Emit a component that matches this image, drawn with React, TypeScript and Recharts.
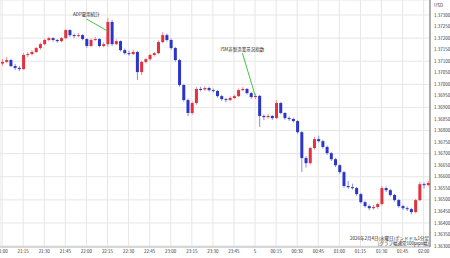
import { Bar, CartesianGrid, ComposedChart, ReferenceDot, ReferenceLine, XAxis, YAxis } from "recharts";

const opens = [
  1.3709, 1.37097, 1.37105, 1.37079, 1.37071, 1.37066, 1.37127, 1.37131, 1.3714, 1.37157,
  1.37174, 1.37192, 1.372, 1.37192, 1.37187, 1.372, 1.37235, 1.37213, 1.37209, 1.37213,
  1.37196, 1.37166, 1.37192, 1.37196, 1.37166, 1.37174, 1.3727, 1.37174, 1.37187, 1.37148,
  1.37135, 1.37131, 1.3714, 1.37053, 1.37097, 1.37109, 1.37127, 1.37135, 1.37183, 1.37213,
  1.37192, 1.37157, 1.37105, 1.36997, 1.36932, 1.36876, 1.36919, 1.3698, 1.36978, 1.36984,
  1.36975, 1.36971, 1.36949, 1.36936, 1.36932, 1.36941, 1.36949, 1.36975, 1.3698, 1.36962,
  1.36945, 1.3695, 1.36863, 1.36858, 1.36863, 1.36854, 1.36919, 1.36876, 1.36854, 1.3685,
  1.36841, 1.36793, 1.36681, 1.36659, 1.36724, 1.36763, 1.36754, 1.36729, 1.36702, 1.36676,
  1.3665, 1.3662, 1.3656, 1.36555, 1.36551, 1.36525, 1.3649, 1.36473, 1.36464, 1.36469,
  1.36482, 1.36551, 1.36542, 1.36521, 1.36499, 1.36473, 1.36464, 1.3646, 1.36447, 1.36499,
  1.36568, 1.36564,
];
const highs = [
  1.3711, 1.37118, 1.3711, 1.37088, 1.3708, 1.37135, 1.3714, 1.37148, 1.37162, 1.3718,
  1.37198, 1.37206, 1.37204, 1.37196, 1.37205, 1.3724, 1.37238, 1.3722, 1.37222, 1.37217,
  1.372, 1.372, 1.37205, 1.372, 1.37182, 1.37287, 1.37278, 1.37195, 1.3719, 1.37155,
  1.37146, 1.3715, 1.37144, 1.37102, 1.37115, 1.37132, 1.3714, 1.3719, 1.37226, 1.3722,
  1.37198, 1.37162, 1.3711, 1.37002, 1.36938, 1.36925, 1.36988, 1.3699, 1.36992, 1.3699,
  1.36982, 1.36976, 1.36955, 1.36942, 1.36948, 1.36955, 1.36982, 1.36988, 1.36984, 1.36966,
  1.36958, 1.36954, 1.3687, 1.36872, 1.36868, 1.36932, 1.36924, 1.3688, 1.36862, 1.36856,
  1.36846, 1.36798, 1.3669, 1.3673, 1.36772, 1.36778, 1.3676, 1.36735, 1.36708, 1.36682,
  1.36655, 1.36625, 1.36582, 1.3657, 1.36556, 1.3653, 1.36496, 1.3648, 1.36478, 1.36488,
  1.3656, 1.36558, 1.36548, 1.36526, 1.36504, 1.36478, 1.36472, 1.36466, 1.36505, 1.36578,
  1.36575, 1.36582,
];
const lows = [
  1.3708, 1.37092, 1.37075, 1.37062, 1.37058, 1.37062, 1.37118, 1.37125, 1.37135, 1.3715,
  1.3717, 1.37186, 1.37185, 1.3718, 1.37182, 1.37196, 1.37205, 1.372, 1.37204, 1.3719,
  1.37158, 1.37162, 1.37188, 1.3716, 1.3716, 1.37162, 1.37166, 1.3717, 1.37142, 1.37128,
  1.37124, 1.37126, 1.37019, 1.3704, 1.3709, 1.37102, 1.3712, 1.3713, 1.37178, 1.37185,
  1.3715, 1.37098, 1.3699, 1.36925, 1.36862, 1.36868, 1.36912, 1.3697, 1.36972, 1.36968,
  1.36965, 1.36942, 1.36928, 1.36922, 1.36926, 1.36936, 1.36945, 1.3697, 1.36956, 1.36938,
  1.36936, 1.36815, 1.36845, 1.36852, 1.36846, 1.3685, 1.3687, 1.36846, 1.36842, 1.36835,
  1.36786, 1.3662, 1.3664, 1.36652, 1.36718, 1.36748, 1.36722, 1.36695, 1.36668, 1.36642,
  1.36612, 1.36552, 1.36548, 1.36545, 1.36518, 1.36484, 1.36466, 1.36455, 1.36458, 1.36462,
  1.36476, 1.36534, 1.36514, 1.36492, 1.36466, 1.36456, 1.36452, 1.36438, 1.36442, 1.36494,
  1.3655, 1.36558,
];
const closes = [
  1.37097, 1.37105, 1.37079, 1.37071, 1.37066, 1.37127, 1.37131, 1.3714, 1.37157, 1.37174,
  1.37192, 1.372, 1.37192, 1.37187, 1.372, 1.37235, 1.37213, 1.37209, 1.37213, 1.37196,
  1.37166, 1.37192, 1.37196, 1.37166, 1.37174, 1.3727, 1.37174, 1.37187, 1.37148, 1.37135,
  1.37131, 1.3714, 1.37053, 1.37097, 1.37109, 1.37127, 1.37135, 1.37183, 1.37213, 1.37192,
  1.37157, 1.37105, 1.36997, 1.36932, 1.36876, 1.36919, 1.3698, 1.36978, 1.36984, 1.36975,
  1.36971, 1.36949, 1.36936, 1.36932, 1.36941, 1.36949, 1.36975, 1.3698, 1.36962, 1.36945,
  1.3695, 1.36863, 1.36858, 1.36863, 1.36854, 1.36919, 1.36876, 1.36854, 1.3685, 1.36841,
  1.36793, 1.36681, 1.36659, 1.36724, 1.36763, 1.36754, 1.36729, 1.36702, 1.36676, 1.3665,
  1.3662, 1.3656, 1.36555, 1.36551, 1.36525, 1.3649, 1.36473, 1.36464, 1.36469, 1.36482,
  1.36551, 1.36542, 1.36521, 1.36499, 1.36473, 1.36464, 1.3646, 1.36447, 1.36499, 1.36568,
  1.36564, 1.36573,
];

const tickTimes = [
  "21:00", "21:15", "21:30", "21:45", "22:00", "22:15", "22:30", "22:45", "23:00", "23:15", "23:30",
  "23:45", "00:00", "00:15", "00:30", "00:45", "01:00", "01:15", "01:30", "01:45", "02:00",
];
const priceTicks = [
  1.363, 1.3635, 1.364, 1.3645, 1.365, 1.3655, 1.366, 1.3665, 1.367, 1.3675, 1.368,
  1.3685, 1.369, 1.3695, 1.37, 1.3705, 1.371, 1.3715, 1.372, 1.3725, 1.373,
];

const UP = "#e2323e";
const DOWN = "#2b35c9";
const FONT = "'Noto Sans CJK JP', 'Noto Sans', sans-serif";

function timeLabel(i: number) {
  const m = (21 * 60 + i * 3) % 1440;
  return `${String(Math.floor(m / 60)).padStart(2, "0")}:${String(m % 60).padStart(2, "0")}`;
}

const data = closes.map((close, i) => ({
  time: timeLabel(i),
  open: opens[i],
  high: highs[i],
  low: lows[i],
  close,
}));

function Candle(props: any) {
  const { x, y, width, height, payload } = props;
  const { open, close, high, low } = payload;
  const up = close >= open;
  const range = high - low || 1;
  const py = (v: number) => y + ((high - v) / range) * height;
  const top = py(Math.max(open, close));
  const bottom = py(Math.min(open, close));
  const cx = x + width / 2;
  return (
    <g>
      <line x1={cx} x2={cx} y1={y} y2={y + height} stroke={up ? "#ef8a92" : "#8d8fe0"} strokeWidth={1} />
      <rect x={x} y={top} width={width} height={Math.max(bottom - top, 1)} fill={up ? UP : DOWN} />
    </g>
  );
}

export default function App() {
  return (
    <div style={{ position: "absolute", left: 0, top: 0, width: 450, height: 258, background: "#fff", fontFamily: FONT }}>
      <ComposedChart width={450} height={258} data={data} margin={{ top: 0, right: 0, left: 0, bottom: 0 }}>
        <CartesianGrid stroke="#e6e6e6" />
        <XAxis
          dataKey="time"
          ticks={tickTimes}
          interval={0}
          tickFormatter={(v) => (v === "00:00" ? "5" : v)}
          height={11}
          tickLine={false}
          tickSize={2}
          tickMargin={1}
          axisLine={{ stroke: "#bdbdbd" }}
          tick={{ fontSize: 4.5, fill: "#333", fontFamily: FONT }}
        />
        <YAxis
          orientation="right"
          domain={[1.36296, 1.37365]}
          ticks={priceTicks}
          allowDataOverflow
          tickFormatter={(v) => v.toFixed(5)}
          width={20}
          tickLine={false}
          tickSize={2}
          tickMargin={2}
          axisLine={{ stroke: "#666" }}
          tick={{ fontSize: 4.5, fill: "#333", fontFamily: FONT }}
        />
        <Bar dataKey={(d) => [d.low, d.high]} shape={(p: any) => <Candle {...p} />} barSize={3} isAnimationActive={false} />
        <ReferenceLine segment={[{ x: "22:00", y: 1.37283 }, { x: "22:15", y: 1.37231 }]} stroke="#44c444" />
        <ReferenceLine segment={[{ x: "23:51", y: 1.37135 }, { x: "00:00", y: 1.36953 }]} stroke="#44c444" />
        <ReferenceDot
          x="22:00"
          y={1.37302}
          r={0}
          fill="none"
          stroke="none"
          label={{ value: "ADP雇用統計", position: "center", fontSize: 4.5, fill: "#222", fontFamily: FONT }}
        />
        <ReferenceDot
          x="23:51"
          y={1.37152}
          r={0}
          fill="none"
          stroke="none"
          label={{ value: "ISM非製造業景況指数", position: "center", fontSize: 4.5, fill: "#222", fontFamily: FONT }}
        />
      </ComposedChart>
      <div style={{ position: "absolute", left: 434, top: 2, fontSize: 4.5, color: "#333" }}>USD</div>
      <div
        style={{
          position: "absolute",
          right: 21,
          top: 236,
          fontSize: 4.5,
          lineHeight: "4.5px",
          color: "#222",
          textAlign: "right",
          whiteSpace: "nowrap",
        }}
      >
        2026年2月4日(水曜日)ポンドドル1分足
        <br />
        [グラフ幅通常100pips幅]
      </div>
    </div>
  );
}
